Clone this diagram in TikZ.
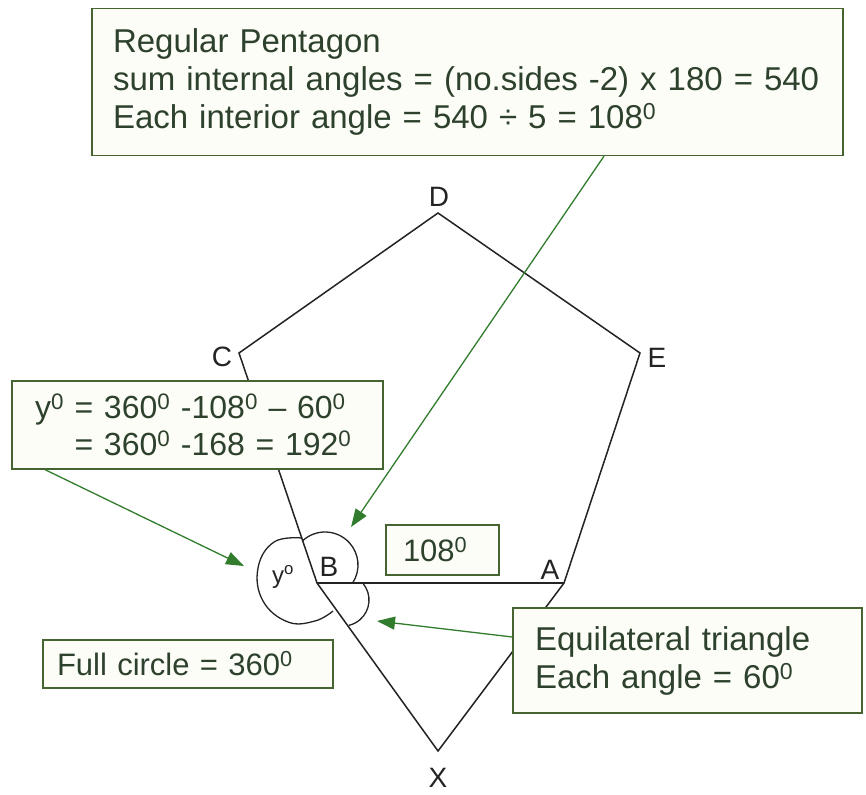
\documentclass[tikz,border=0pt]{standalone}
\usepackage{fontspec}
\setmainfont{Liberation Sans}
\usetikzlibrary{arrows.meta}
\definecolor{boxline}{RGB}{70,100,50}
\definecolor{boxfill}{RGB}{252,253,246}
\definecolor{boxtext}{RGB}{45,65,45}
\definecolor{arrowgreen}{RGB}{50,125,45}
\definecolor{ink}{RGB}{35,35,35}
\newcommand{\dg}{\textsuperscript{0}}
\tikzset{
  box/.style={draw=boxline, line width=1.3pt, fill=boxfill, text=boxtext,
    font=\fontsize{31}{38}\selectfont, align=left, inner sep=0pt},
  bigtext/.style={font=\fontsize{33}{38}\selectfont},
  midtext/.style={font=\fontsize{32}{37}\selectfont},
  garrow/.style={draw=arrowgreen, line width=1.3pt, -{Triangle[length=18pt,width=13pt]}},
  edge/.style={draw=ink, line width=1.5pt},
  vlabel/.style={text=ink, font=\fontsize{28}{30}\selectfont, inner sep=0pt}
}
\begin{document}
\begin{tikzpicture}[x=1pt,y=-1pt]
\useasboundingbox (0,0) rectangle (866,794);
\fill[white] (0,0) rectangle (866,794);
% vertices
\coordinate (D) at (438,213);
\coordinate (C) at (239,353);
\coordinate (E) at (640,353);
\coordinate (A) at (564,583);
\coordinate (B) at (317,583);
\coordinate (X) at (438,751);
% pentagon and triangle
\draw[edge] (B) -- (C) -- (D) -- (E) -- (A) -- (X) -- (B);
\draw[draw=ink, line width=2pt] (B) -- (A);
% angle arcs
\draw[draw=ink, line width=1.3pt] (325,565) ++(227:33) arc[start angle=227, end angle=393, radius=33];
\draw[draw=ink, line width=1.3pt] (343,600) ++(-40:26) arc[start angle=-40, end angle=77, radius=26];
\draw[draw=ink, line width=1.3pt] plot[smooth, tension=0.7] coordinates {(302,538) (274,542) (258,568) (263,601) (288,622) (315,621) (333,611)};
% vertex labels
\node[vlabel] (lD) at (439,197) {D};
\node[vlabel] (lC) at (222,357) {C};
\node[vlabel] (lE) at (657,358) {E};
\node[vlabel] (lB) at (329,567) {B};
\node[vlabel] (lA) at (550,570) {A};
\node[vlabel] (lX) at (438,778) {X};
\node[vlabel, font=\fontsize{24}{26}\selectfont] (ly) at (283,577) {y\textsuperscript{o}};
% boxes
\node[box, bigtext, minimum width=751pt, minimum height=147pt, text width=709pt] (top) at (467.5,82)
  {Regular Pentagon\\sum internal angles = (no.sides -2) x 180 = 540\\Each interior angle = 540 ÷ 5 = 108\dg};
\node[box, midtext, minimum width=371pt, minimum height=88pt, text width=325pt] (ybox) at (197.5,425)
  {y\dg{} = 360\dg{} -108\dg{} – 60\dg\\\hphantom{y\dg{}} = 360\dg{} -168 = 192\dg};
\node[box, minimum width=113pt, minimum height=50pt, text width=79pt] (b108) at (442.5,550) {108\dg};
\node[box, minimum width=290pt, minimum height=48pt, text width=262pt] (full) at (188,664) {Full circle = 360\dg};
\node[box, bigtext, minimum width=349pt, minimum height=105pt, text width=305pt] (equi) at (687.5,660.5)
  {Equilateral triangle\\Each angle = 60\dg};
% arrows
\coordinate (t1) at (351,527);
\coordinate (t2) at (244,566);
\coordinate (t3) at (377,621);
\draw[garrow] ([xshift=136.5pt]top.south) -- (t1);
\draw[garrow] ([xshift=-152.5pt]ybox.south) -- (t2);
\draw[garrow] ([yshift=23.5pt]equi.west) -- (t3);
\end{tikzpicture}
\end{document}
